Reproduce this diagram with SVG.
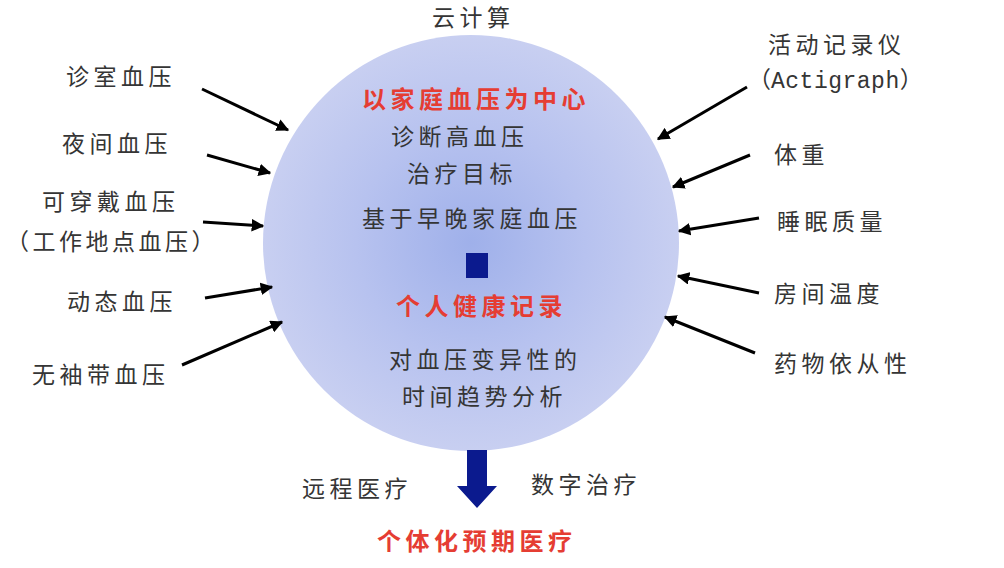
<svg xmlns="http://www.w3.org/2000/svg" width="1004" height="568" viewBox="0 0 1004 568">
<defs>
<radialGradient id="sphere" cx="0.5" cy="0.5" r="0.5">
<stop offset="0" stop-color="#9fb0ea"/>
<stop offset="0.55" stop-color="#b7c2ef"/>
<stop offset="1" stop-color="#c8cff1"/>
</radialGradient>
<marker id="ah" viewBox="0 0 10 10" refX="9" refY="5" markerWidth="4.2" markerHeight="4.2" orient="auto" markerUnits="strokeWidth">
<path d="M0,0 L10,5 L0,10 Z" fill="#000"/>
</marker>
<style>
text{font-family:"Noto Sans CJK SC","Noto Sans",sans-serif;font-size:23px;letter-spacing:4.5px;fill:#353535}
.red{fill:#e53d33;font-weight:bold;font-size:24px}
.mono{font-family:"Liberation Mono","Noto Sans CJK SC",monospace;letter-spacing:0.5px}
.conn line{stroke:#000;stroke-width:3;marker-end:url(#ah)}
.navy{fill:#0b1a8e}
</style>
</defs>
<rect width="1004" height="568" fill="#fff"/>
<g id="sphere-node">
<circle cx="471" cy="243" r="208" fill="url(#sphere)"/>
<text class="red" x="362" y="108">以家庭血压为中心</text>
<text x="391" y="145">诊断高血压</text>
<text x="407" y="182">治疗目标</text>
<text x="362" y="227">基于早晚家庭血压</text>
<rect class="navy" x="466" y="253" width="22" height="25"/>
<text class="red" x="396" y="315">个人健康记录</text>
<text x="389" y="368">对血压变异性的</text>
<text x="402" y="405">时间趋势分析</text>
</g>
<g id="cloud"><text x="432" y="26">云计算</text></g>
<g id="l1"><text x="66" y="85">诊室血压</text></g>
<g id="l2"><text x="62" y="152">夜间血压</text></g>
<g id="l3"><text x="42" y="210">可穿戴血压</text><text x="6" y="250" style="letter-spacing:3.5px">（工作地点血压）</text></g>
<g id="l4"><text x="67" y="310">动态血压</text></g>
<g id="l5"><text x="32" y="383">无袖带血压</text></g>
<g id="r1"><text x="768" y="53">活动记录仪</text><text x="748" y="88" style="letter-spacing:0">（<tspan class="mono" font-size="23">Actigraph</tspan>）</text></g>
<g id="r2"><text x="774" y="163">体重</text></g>
<g id="r3"><text x="777" y="230">睡眠质量</text></g>
<g id="r4"><text x="774" y="302">房间温度</text></g>
<g id="r5"><text x="774" y="372">药物依从性</text></g>
<g id="bottom">
<path class="navy" d="M467,450 H487 V486 H497 L477,508 L457,486 H467 Z"/>
<text x="302" y="497">远程医疗</text>
<text x="531" y="493">数字治疗</text>
<text class="red" x="377" y="550">个体化预期医疗</text>
</g>
<g id="connectors" class="conn">
<line x1="202" y1="89" x2="288" y2="130"/>
<line x1="207" y1="155" x2="270" y2="173"/>
<line x1="203" y1="222" x2="263" y2="226"/>
<line x1="205" y1="298" x2="272" y2="287"/>
<line x1="182" y1="365" x2="282" y2="322"/>
<line x1="747" y1="87" x2="658" y2="139"/>
<line x1="750" y1="155" x2="673" y2="187"/>
<line x1="759" y1="218" x2="679" y2="231"/>
<line x1="759" y1="293" x2="678" y2="276"/>
<line x1="755" y1="353" x2="665" y2="317"/>
</g>
</svg>
